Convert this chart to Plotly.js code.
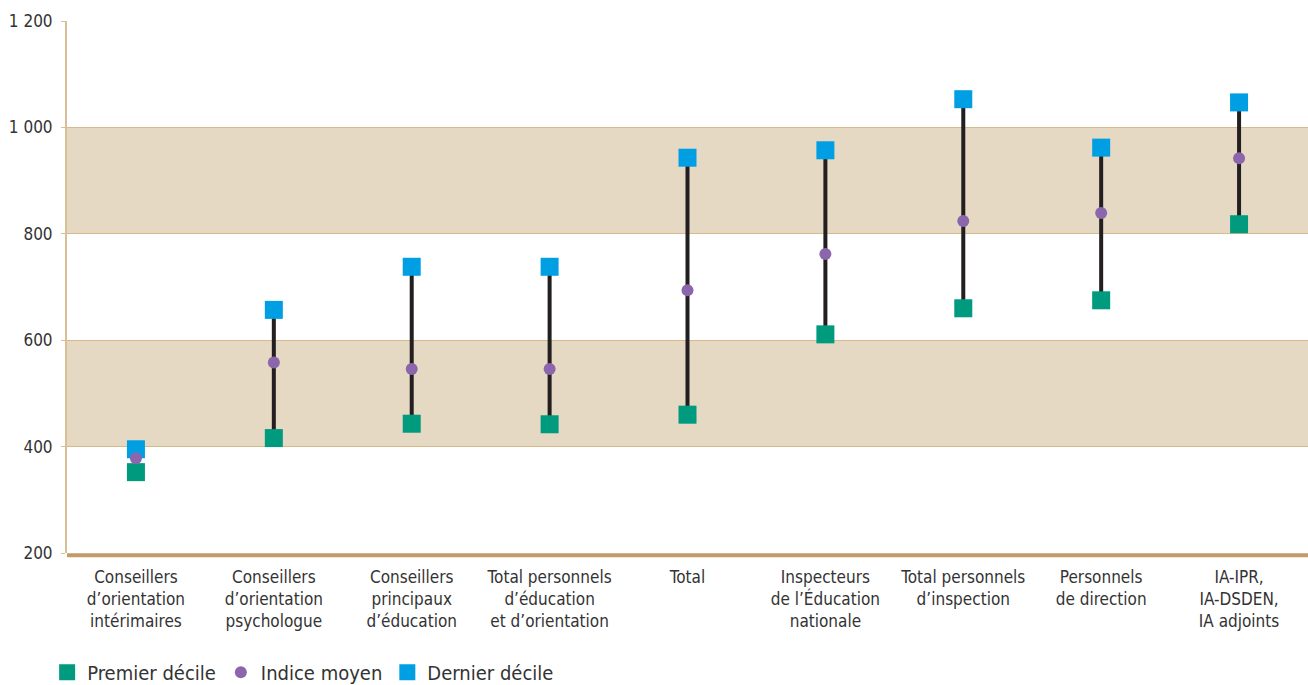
<html lang="fr">
  <head>
    <meta charset="UTF-8" />
    <script src="https://cdn.plot.ly/plotly-3.0.1.min.js"></script>
    <title>Indices par corps</title>
    <style>
      body { margin: 0; background: #fff; }
    </style>
  </head>
  <body>
    <div id="chart" style="width: 1308px; height: 685px"></div>
    <script>
      // categories (multi-line labels)
      const categories = [
        "Conseillers<br>d’orientation<br>intérimaires",
        "Conseillers<br>d’orientation<br>psychologue",
        "Conseillers<br>principaux<br>d’éducation",
        "Total personnels<br>d’éducation<br>et d’orientation",
        "Total",
        "Inspecteurs<br>de l’Éducation<br>nationale",
        "Total personnels<br>d’inspection",
        "Personnels<br>de direction",
        "IA-IPR,<br>IA-DSDEN,<br>IA adjoints",
      ];
      const premierDecile = [352, 416, 443, 442, 460, 611, 660, 675, 818];
      const indiceMoyen = [378, 558, 546, 546, 694, 762, 824, 839, 942];
      const dernierDecile = [395, 657, 738, 738, 943, 957, 1053, 962, 1047];

      const yTicks = [200, 400, 600, 800, 1000, 1200];
      const yLabels = ["200", "400", "600", "800", "1 000", "1 200"];

      const xs = categories.map((_, i) => i);

      // vertical black bars from first to last decile
      const segX = [];
      const segY = [];
      xs.forEach((x, i) => {
        segX.push(x, x, null);
        segY.push(premierDecile[i], dernierDecile[i], null);
      });

      const font = "'Liberation Sans Narrow', 'DejaVu Sans Condensed', Arial, sans-serif";

      const traces = [
        {
          x: segX,
          y: segY,
          type: "scatter",
          mode: "lines",
          line: { color: "#231f20", width: 4 },
          showlegend: false,
          hoverinfo: "skip",
        },
        {
          x: xs,
          y: premierDecile,
          name: "Premier décile",
          legendrank: 1,
          type: "scatter",
          mode: "markers",
          marker: { symbol: "square", size: 18, color: "#009a7e" },
        },
        {
          x: xs,
          y: dernierDecile,
          name: "Dernier décile",
          legendrank: 3,
          type: "scatter",
          mode: "markers",
          marker: { symbol: "square", size: 18, color: "#009fe3" },
        },
        {
          x: xs,
          y: indiceMoyen,
          name: "Indice moyen",
          legendrank: 2,
          type: "scatter",
          mode: "markers",
          marker: { symbol: "circle", size: 12, color: "#8c66ad" },
        },
      ];

      const bands = [
        [400, 600],
        [800, 1000],
      ].map(([a, b]) => ({
        type: "rect",
        xref: "paper",
        yref: "y",
        x0: 0,
        x1: 1,
        y0: a,
        y1: b,
        fillcolor: "#e5d9c3",
        line: { width: 0 },
        layer: "below",
      }));

      const layout = {
        width: 1308,
        height: 685,
        margin: { l: 67, r: 0, t: 21, b: 132, autoexpand: false },
        paper_bgcolor: "#ffffff",
        plot_bgcolor: "rgba(0,0,0,0)",
        font: { family: font, size: 17, color: "#333333" },
        xaxis: {
          range: [-0.5, 8.5],
          tickvals: xs,
          ticktext: categories,
          showgrid: false,
          zeroline: false,
          ticks: "",
          ticklabelstandoff: 12,
          tickfont: { family: font, size: 17, color: "#333333" },
          fixedrange: true,
        },
        yaxis: {
          range: [200, 1200],
          tickvals: yTicks,
          ticktext: yLabels,
          showgrid: true,
          gridcolor: "#d6b98c",
          gridwidth: 1,
          zeroline: false,
          showline: true,
          linecolor: "#d9bf96",
          linewidth: 2,
          ticks: "outside",
          ticklen: 4,
          tickcolor: "#d9bf96",
          ticklabelstandoff: 5,
          tickfont: { family: font, size: 17, color: "#333333" },
          fixedrange: true,
        },
        shapes: bands.concat([
          {
            // thick baseline under the plot area
            type: "line",
            xref: "paper",
            yref: "paper",
            x0: 0,
            x1: 1,
            y0: -0.004,
            y1: -0.004,
            line: { color: "#c29b68", width: 4 },
          },
        ]),
        showlegend: true,
        legend: {
          orientation: "h",
          x: -0.016,
          xanchor: "left",
          y: -0.224,
          yanchor: "middle",
          font: { family: font, size: 20, color: "#333333" },
          traceorder: "normal",
        },
      };

      Plotly.newPlot("chart", traces, layout, { displayModeBar: false, staticPlot: true });
    </script>
  </body>
</html>
